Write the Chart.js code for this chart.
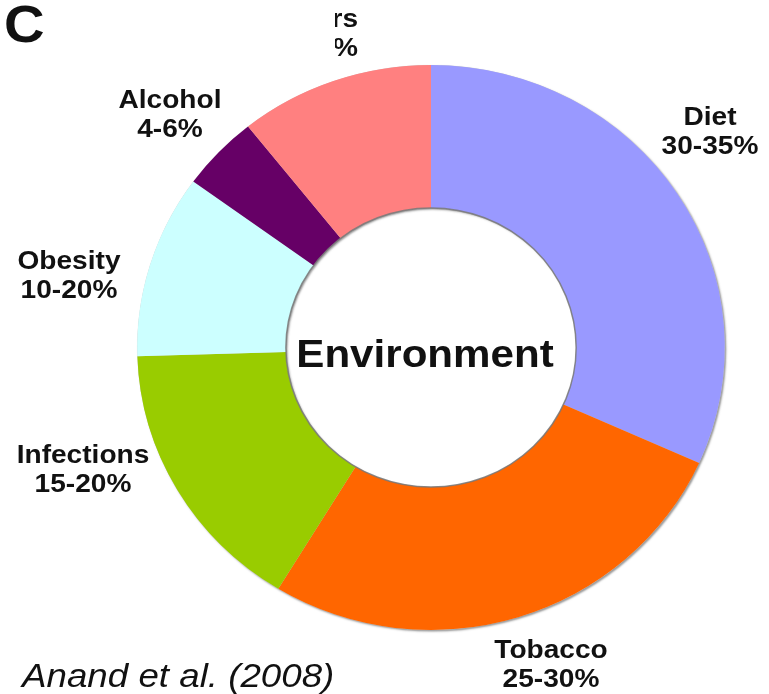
<!DOCTYPE html>
<html>
<head>
<meta charset="utf-8">
<script src="https://cdn.jsdelivr.net/npm/chart.js@4.4.1/dist/chart.umd.min.js"></script>
<style>
  html, body { margin: 0; padding: 0; background: #ffffff; }
  #wrap { position: relative; width: 769px; height: 694px; }
  canvas { display: block; }
</style>
</head>
<body>
<div id="wrap"><canvas id="c" width="769" height="694"></canvas></div>
<script>
// ---- data (share of the circle, in %) ----
const categories = ["Diet", "Tobacco", "Infections", "Obesity", "Alcohol", "Others"];
const shares     = [31.7, 27.0, 15.8, 10.5, 4.3, 10.7];
const rangeLabels = ["30-35%", "25-30%", "15-20%", "10-20%", "4-6%", "10-15%"];
const sliceColors = ["#9999FF", "#FF6600", "#99CC00", "#CCFFFF", "#660066", "#FF8080"];
const centerText = "Environment";
const panelLetter = "C";
const citation = "Anand et al. (2008)";

// ---- label layout (positions only) ----
const labelLayout = {
  Diet:       { x: 710, y: 125, align: "center" },
  Tobacco:    { x: 551, y: 658, align: "center" },
  Infections: { x: 83,  y: 463, align: "center" },
  Obesity:    { x: 69,  y: 269, align: "center" },
  Alcohol:    { x: 170, y: 108, align: "center" },
  Others:     { x: 358, y: 27,  align: "right", clipLeft: 335 }
};
const LINE_GAP = 29;
const XSTRETCH = 1.08;   // the picture is slightly stretched horizontally
const RING_XSCALE = 1.04;

function stretchedText(ctx, text, x, y, font, align) {
  ctx.save();
  ctx.font = font;
  ctx.textAlign = align;
  ctx.textBaseline = "alphabetic";
  ctx.translate(x, y);
  ctx.scale(XSTRETCH, 1);
  ctx.fillText(text, 0, 0);
  ctx.restore();
}

const ellipsePlugin = {
  id: "ellipse",
  beforeDatasetsDraw(chart) {
    const ctx = chart.ctx;
    const arc = chart.getDatasetMeta(0).data[0];
    if (!arc) return;
    const cx = arc.x, cy = arc.y;
    ctx.save();
    ctx.translate(cx, cy);
    ctx.scale(RING_XSCALE, 1);
    ctx.translate(-cx, -cy);
    // soft shadow under the ring
    ctx.save();
    ctx.shadowColor = "rgba(70,70,70,0.55)";
    ctx.shadowBlur = 2;
    ctx.shadowOffsetX = 1.5;
    ctx.shadowOffsetY = 1.5;
    ctx.beginPath();
    ctx.arc(cx, cy, arc.outerRadius, 0, Math.PI * 2);
    ctx.arc(cx, cy, arc.innerRadius, 0, Math.PI * 2, true);
    ctx.fillStyle = "#cccccc";
    ctx.fill();
    ctx.restore();
  },
  afterDatasetsDraw(chart) {
    const ctx = chart.ctx;
    const arc = chart.getDatasetMeta(0).data[0];
    if (!arc) return;
    ctx.beginPath();
    ctx.arc(arc.x, arc.y, arc.innerRadius, 0, Math.PI * 2);
    ctx.lineWidth = 1.4;
    ctx.strokeStyle = "rgba(120,120,120,0.85)";
    ctx.stroke();
    ctx.restore();
  }
};

const textPlugin = {
  id: "texts",
  afterDraw(chart) {
    const ctx = chart.ctx;
    ctx.save();
    ctx.fillStyle = "#111111";
    const font = "bold 26px 'Liberation Sans', Arial, sans-serif";
    categories.forEach((name, i) => {
      const L = labelLayout[name];
      ctx.save();
      if (L.clipLeft !== undefined) {
        ctx.beginPath();
        ctx.rect(L.clipLeft, 0, 769 - L.clipLeft, 694);
        ctx.clip();
      }
      stretchedText(ctx, name, L.x, L.y, font, L.align);
      stretchedText(ctx, rangeLabels[i], L.x, L.y + LINE_GAP, font, L.align);
      ctx.restore();
    });
    // centre text
    const arc = chart.getDatasetMeta(0).data[0];
    stretchedText(ctx, centerText, arc.x - 6, 367, "bold 39px 'Liberation Sans', Arial, sans-serif", "center");
    // panel letter
    stretchedText(ctx, panelLetter, 4, 42, "bold 52px 'Liberation Sans', Arial, sans-serif", "left");
    // citation
    stretchedText(ctx, citation, 22, 687, "italic 34px 'Liberation Sans', Arial, sans-serif", "left");
    ctx.restore();
  }
};

new Chart(document.getElementById("c"), {
  type: "doughnut",
  data: {
    labels: categories,
    datasets: [{
      data: shares,
      backgroundColor: sliceColors,
      borderWidth: 0,
      hoverOffset: 0
    }]
  },
  options: {
    responsive: false,
    animation: false,
    cutout: "49.4%",
    rotation: 0,
    layout: { padding: { top: 65, bottom: 64, left: 148.5, right: 55.5 } },
    plugins: {
      legend: { display: false },
      tooltip: { enabled: false }
    },
    events: []
  },
  plugins: [ellipsePlugin, textPlugin]
});
</script>
</body>
</html>
